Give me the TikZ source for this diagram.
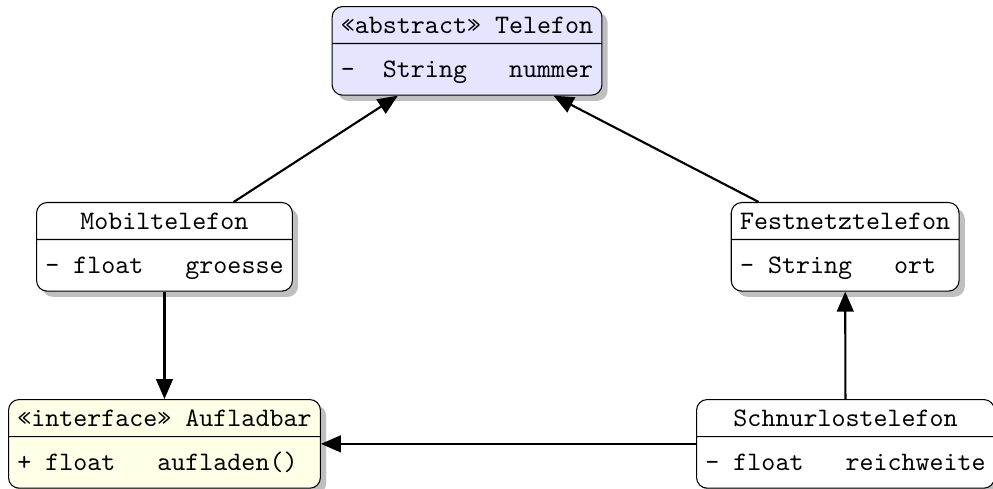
\documentclass[tikz,border=0pt]{standalone}
\usepackage{fontspec}
\usetikzlibrary{shapes.multipart,shadows,arrows.meta}
\newcommand{\headstrut}{\rule[-0.3pt]{0pt}{6.8pt}}
\newcommand{\bodystrut}{\rule[-3.2pt]{0pt}{12.3pt}}

\begin{document}
\begin{tikzpicture}[umlclass/.style={rectangle split,rectangle split parts=2,
      rectangle split part align={center,left},draw,rounded corners,
      drop shadow,fill=white,font=\ttfamily,anchor=north},
    inherit/.style={thick,-{Triangle[length=7.5pt,width=6.3pt]}}]
	 \useasboundingbox (0,0) rectangle (13.083,-6.43);
	 \node at (6.153,-0.079) [umlclass,fill=blue!10] (telefon) {\headstrut«abstract» Telefon\nodepart{two}\bodystrut-\ \ String\ \ \ nummer};
	 \node at (2.167,-2.661) [umlclass] (mobil) {\headstrut Mobiltelefon\nodepart{two}\bodystrut-\ float\ \ \ groesse};
	 \node at (11.135,-2.661) [umlclass] (festnetz) {\headstrut Festnetztelefon\nodepart{two}\bodystrut-\ String\ \ \ ort};
	 \node at (2.167,-5.257) [umlclass,fill=yellow!10] (aufladbar) {\headstrut«interface» Aufladbar\nodepart{two}\bodystrut+\ float\ \ \ aufladen()};
	 \node at (11.14,-5.257) [umlclass] (schnurlos) {\headstrut Schnurlostelefon\nodepart{two}\bodystrut-\ float\ \ \ reichweite};

	 \draw[inherit] (mobil) -- (telefon);
	 \draw[inherit] (festnetz) -- (telefon);
	 \draw[inherit] (mobil) -- (aufladbar);
	 \draw[inherit] (schnurlos) -- (festnetz);
	 \draw[inherit] (schnurlos) -- (aufladbar);
\end{tikzpicture}
\end{document}
